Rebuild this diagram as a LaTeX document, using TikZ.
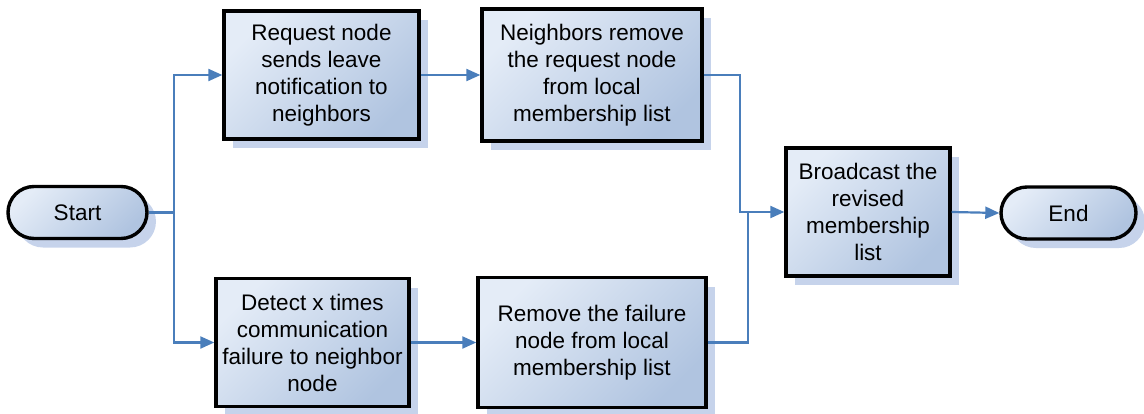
\documentclass[tikz,border=0pt]{standalone}
\usepackage{fontspec}
\setmainfont{Liberation Sans}
\usetikzlibrary{arrows.meta,shadows}
\definecolor{cL}{RGB}{228,236,247}
\definecolor{cD}{RGB}{176,196,224}
\definecolor{shc}{RGB}{198,211,235}
\definecolor{lnc}{RGB}{74,126,187}
\tikzset{
  base/.style={draw=black, line width=3.4pt, top color=cL, bottom color=cD, shading angle=45,
    drop shadow={shadow xshift=9pt, shadow yshift=-9pt, fill=shc, opacity=1},
    align=center, inner sep=0pt, font=\fontsize{22.5pt}{27pt}\selectfont},
  procbox/.style={base, rectangle},
  term/.style={base, rectangle, rounded corners=26pt, minimum width=139pt, minimum height=52pt},
  conn/.style={draw=lnc, line width=2.2pt},
  arr/.style={conn, -{Triangle[length=14pt,width=12pt]}}
}
\begin{document}
\begin{tikzpicture}[x=1pt,y=-1pt]
\useasboundingbox (0,0) rectangle (1144,413);
\node[term] (start) at (77.5,212.5) {Start};
\node[procbox, minimum width=195pt, minimum height=128pt] (b1) at (321.5,75) {Request node\\sends leave\\notification to\\neighbors};
\node[procbox, minimum width=220pt, minimum height=132pt] (b2) at (592,75) {Neighbors remove\\the request node\\from local\\membership list};
\node[procbox, minimum width=164pt, minimum height=128pt] (b3) at (868,212) {Broadcast the\\revised\\membership\\list};
\node[procbox, minimum width=193pt, minimum height=128pt] (b4) at (312.5,342.5) {Detect x times\\communication\\failure to neighbor\\node};
\node[procbox, minimum width=228pt, minimum height=130pt] (b5) at (592,342.5) {Remove the failure\\node from local\\membership list};
\node[term, minimum width=135pt] (end) at (1068.5,213) {End};
\coordinate (j) at (174,212.5);
\coordinate (ju) at (740,75);
\coordinate (jd) at (748,342.5);
\draw[conn] (start.east) -- (j);
\draw[arr] (j) |- (b1.west);
\draw[arr] (j) |- (b4.west);
\draw[arr] (b1.east) -- (b2.west);
\draw[arr] (b4.east) -- (b5.west);
\draw[arr] (b2.east) -- (ju) |- (b3.west);
\draw[conn] (b5.east) -- (jd) -- (jd |- b3.west);
\draw[arr] (b3.east) -- (end.west);
\end{tikzpicture}
\end{document}
